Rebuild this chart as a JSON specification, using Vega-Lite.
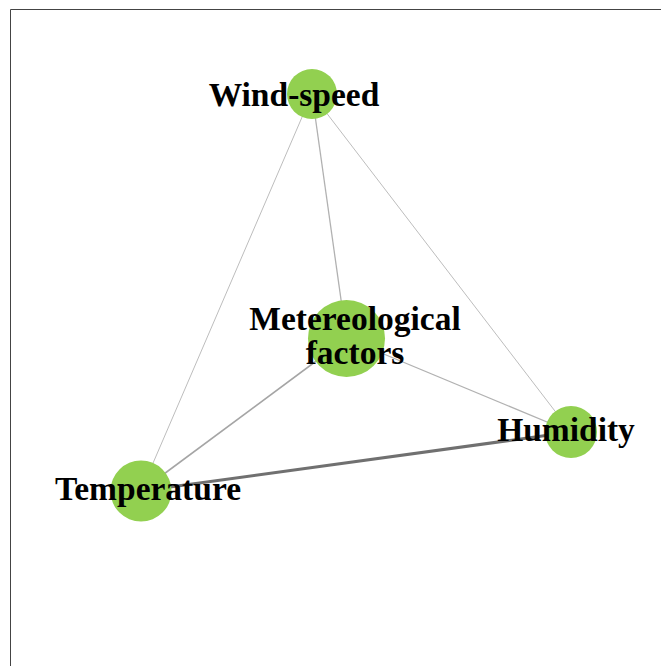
{
  "$schema": "https://vega.github.io/schema/vega-lite/v6.json",
  "width": 661,
  "height": 666,
  "autosize": {"type": "fit", "contains": "padding"},
  "padding": {"left": 10, "top": 9, "right": 0, "bottom": 0},
  "background": "white",
  "config": {"view": {"stroke": null}},
  "datasets": {
    "nodes": [
      {"name": "Wind-speed", "label": "Wind-speed", "x": 312, "y": 94, "weight": 2500, "lx": 294, "ly": 106},
      {"name": "Metereological factors", "label": "Metereological\nfactors", "x": 346.5, "y": 338.5, "weight": 5929, "lx": 355, "ly": 330},
      {"name": "Humidity", "label": "Humidity", "x": 571, "y": 432, "weight": 2704, "lx": 566, "ly": 441},
      {"name": "Temperature", "label": "Temperature", "x": 141, "y": 491, "weight": 3721, "lx": 148, "ly": 500}
    ],
    "edges": [
      {"source": "Wind-speed", "target": "Temperature", "x": 312, "y": 94, "x2": 141, "y2": 491, "w": 1.0},
      {"source": "Wind-speed", "target": "Humidity", "x": 312, "y": 94, "x2": 571, "y2": 432, "w": 1.0},
      {"source": "Wind-speed", "target": "Metereological factors", "x": 312, "y": 94, "x2": 346.5, "y2": 338.5, "w": 1.3},
      {"source": "Metereological factors", "target": "Humidity", "x": 346.5, "y": 338.5, "x2": 571, "y2": 432, "w": 1.3},
      {"source": "Metereological factors", "target": "Temperature", "x": 346.5, "y": 338.5, "x2": 141, "y2": 491, "w": 1.6},
      {"source": "Temperature", "target": "Humidity", "x": 141, "y": 491, "x2": 571, "y2": 432, "w": 3.0}
    ]
  },
  "layer": [
    {
      "data": {"name": "edges"},
      "mark": {"type": "rule"},
      "encoding": {
        "x": {"field": "x", "type": "quantitative", "scale": {"domain": [10, 661], "nice": false, "zero": false},
              "axis": {"orient": "top", "title": null, "labels": false, "ticks": false, "grid": false, "domain": true, "domainColor": "#444444", "domainWidth": 1}},
        "y": {"field": "y", "type": "quantitative", "scale": {"domain": [666, 9], "nice": false, "zero": false},
              "axis": {"orient": "left", "title": null, "labels": false, "ticks": false, "grid": false, "domain": true, "domainColor": "#444444", "domainWidth": 1}},
        "x2": {"field": "x2"},
        "y2": {"field": "y2"},
        "strokeWidth": {"field": "w", "type": "quantitative", "scale": {"domain": [0, 3], "range": [0, 3]}, "legend": null},
        "color": {"field": "w", "type": "quantitative", "scale": {"domain": [1, 3], "range": ["#bdbdbd", "#707070"]}, "legend": null}
      }
    },
    {
      "data": {"name": "nodes"},
      "mark": {"type": "circle", "opacity": 1, "color": "#92d050"},
      "encoding": {
        "x": {"field": "x", "type": "quantitative"},
        "y": {"field": "y", "type": "quantitative"},
        "size": {"field": "weight", "type": "quantitative", "scale": {"domain": [0, 6000], "range": [0, 6000]}, "legend": null}
      }
    },
    {
      "data": {"name": "nodes"},
      "mark": {"type": "text", "font": "Liberation Serif", "fontWeight": "bold", "fontSize": 33.5, "color": "black", "align": "center", "baseline": "alphabetic", "lineBreak": "\n", "lineHeight": 34},
      "encoding": {
        "x": {"field": "lx", "type": "quantitative"},
        "y": {"field": "ly", "type": "quantitative"},
        "text": {"field": "label"}
      }
    }
  ]
}
